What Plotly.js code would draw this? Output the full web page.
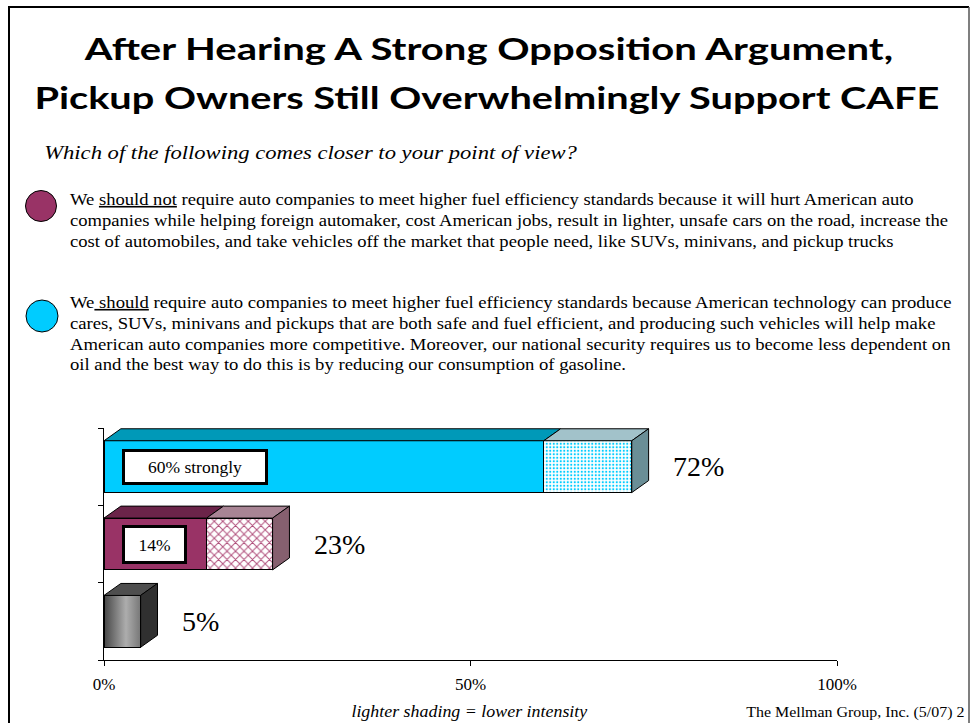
<!DOCTYPE html>
<html>
<head>
<meta charset="utf-8">
<script src="https://cdn.plot.ly/plotly-3.0.1.min.js"></script>
<style>
  html, body { margin: 0; padding: 0; background: #ffffff; }
  #chart { width: 971px; height: 723px; }
</style>
</head>
<body>
<div id="chart"></div>
<script>
// ---- data ----
const categories = ['Should require higher standards', 'Should not require higher standards', "Don't know"];
const totalPct = [72, 23, 5];
const strongPct = [60, 14, null];
const boxSuffix = [' strongly', '', null];
const tickVals = [0, 50, 100];

const titleLines = [
  'After Hearing A Strong Opposition Argument,',
  'Pickup Owners Still Overwhelmingly Support CAFE'
];
const subtitle = 'Which of the following comes closer to your point of view?';
const paraNot = 'We <span style="text-decoration:underline">should not</span> require auto companies to meet higher fuel efficiency standards because it will hurt American auto<br>companies while helping foreign automaker, cost American jobs, result in lighter, unsafe cars on the road, increase the<br>cost of automobiles, and take vehicles off the market that people need, like SUVs, minivans, and pickup trucks';
const paraShould = 'We<span style="text-decoration:underline"> should</span> require auto companies to meet higher fuel efficiency standards because American technology can produce<br>cares, SUVs, minivans and pickups that are both safe and fuel efficient, and producing such vehicles will help make<br>American auto companies more competitive. Moreover, our national security requires us to become less dependent on<br>oil and the best way to do this is by reducing our consumption of gasoline.';
const footNote = 'lighter shading = lower intensity';
const source = 'The Mellman Group, Inc. (5/07) 2';

// ---- styles ----
const solidColor = ['#00CCFF', '#993366', '#808080'];
const patFg = ['#00CCFF', '#B0507C'];
const topSolid = ['#0099B8', '#6B2449', '#4E4E4E'];
const topPat = ['#A2C2CA', '#A88494'];
const sidePat = ['#6A8E96', '#86606F'];
const sideGray = '#303030';
const SERIF = '"Liberation Serif", "Times New Roman", serif';
const SANS = 'Lato, "Open Sans", sans-serif';

const W = 971, H = 723;
const M = {l: 104, r: 134, t: 428, b: 63};
const PW = W - M.l - M.r, PH = H - M.t - M.b;
const fx = x => (x - M.l) / PW;          // pixel -> paper x
const fy = y => (H - M.b - y) / PH;      // pixel -> paper y

const BW = 0.67, DX = 2.3, DY = 0.155;
const n = categories.length;
const yPos = categories.map((c, i) => n - 1 - i);

// ---- traces ----
const idxSplit = [], xStrong = [], xRest = [], ySplit = [];
categories.forEach((c, i) => {
  if (strongPct[i] !== null) {
    idxSplit.push(i);
    xStrong.push(strongPct[i]);
    xRest.push(totalPct[i] - strongPct[i]);
    ySplit.push(yPos[i]);
  }
});
const idxSingle = categories.map((c, i) => i).filter(i => strongPct[i] === null);

const traces = [
  {
    type: 'bar', orientation: 'h', x: xStrong, y: ySplit, width: BW,
    marker: {color: idxSplit.map(i => solidColor[i]), line: {color: '#000', width: 1}},
    hoverinfo: 'skip', showlegend: false
  },
  {
    type: 'bar', orientation: 'h', x: xRest, y: ySplit, width: BW,
    marker: {
      color: idxSplit.map(i => patFg[i]),
      line: {color: '#000', width: 1},
      pattern: {shape: ['.', 'x'], fgcolor: idxSplit.map(i => patFg[i]), bgcolor: '#ffffff', size: [3.5, 6], solidity: [0.3, 0.3]}
    },
    hoverinfo: 'skip', showlegend: false
  },
  {
    type: 'bar', orientation: 'h', x: idxSingle.map(i => totalPct[i]), y: idxSingle.map(i => yPos[i]), width: BW,
    marker: {color: idxSingle.map(i => solidColor[i]), line: {color: '#000', width: 1}},
    hoverinfo: 'skip', showlegend: false
  }
];

// ---- 3D faces ----
const shapes = [];
function poly(pts, fill) {
  const d = 'M' + pts.map(p => p[0] + ',' + p[1]).join(' L') + ' Z';
  shapes.push({type: 'path', xref: 'x', yref: 'y', path: d, fillcolor: fill, line: {color: '#000', width: 1}, layer: 'above'});
}
function topFace(a, b, yc, fill) {
  const t = yc + BW / 2;
  poly([[a, t], [a + DX, t + DY], [b + DX, t + DY], [b, t]], fill);
}
function sideFace(b, yc, fill) {
  const t = yc + BW / 2, bo = yc - BW / 2;
  poly([[b, bo], [b, t], [b + DX, t + DY], [b + DX, bo + DY]], fill);
}
categories.forEach((c, i) => {
  const yc = yPos[i];
  if (strongPct[i] !== null) {
    topFace(0, strongPct[i], yc, topSolid[i]);
    topFace(strongPct[i], totalPct[i], yc, topPat[i]);
    sideFace(totalPct[i], yc, sidePat[i]);
  } else {
    topFace(0, totalPct[i], yc, topSolid[i]);
    sideFace(totalPct[i], yc, sideGray);
  }
});

// slide frame
shapes.push({type: 'path', xref: 'paper', yref: 'paper',
  path: `M${fx(9)},${fy(723)} L${fx(9)},${fy(7)} L${fx(969)},${fy(7)}`,
  line: {color: '#000', width: 2}});
shapes.push({type: 'line', xref: 'paper', yref: 'paper', x0: fx(969), x1: fx(969), y0: fy(7), y1: fy(723),
  line: {color: '#555', width: 1.5}});
// bullet circles
function circle(cx, cy, r, fill) {
  shapes.push({type: 'circle', xref: 'paper', yref: 'paper', x0: fx(cx - r), x1: fx(cx + r), y0: fy(cy + r), y1: fy(cy - r),
    fillcolor: fill, line: {color: '#000', width: 1}});
}
circle(41, 206, 15.5, solidColor[1]);
circle(42, 316, 16, solidColor[0]);

// ---- annotations (with horizontal stretch targets) ----
const ann = [];
const stretch = {};
function addAnn(a, spec) { if (spec) stretch[ann.length] = spec; ann.push(a); }

titleLines.forEach((t, k) => addAnn({
  xref: 'paper', yref: 'paper', x: fx(k === 0 ? 488 : 487), y: fy(k === 0 ? 48 : 97), xanchor: 'center', yanchor: 'middle',
  text: '<b>' + t + '</b>', showarrow: false, font: {family: SANS, size: 30, color: '#000'}
}, {w: k === 0 ? 810 : 905, anchor: 'center'}));
addAnn({xref: 'paper', yref: 'paper', x: fx(42), y: fy(153), xanchor: 'left', yanchor: 'middle',
  text: '<i>' + subtitle + '</i>', showarrow: false, font: {family: SERIF, size: 18.5, color: '#000'}},
  {w: 534, anchor: 'left'});
addAnn({xref: 'paper', yref: 'paper', x: fx(68), y: fy(189), xanchor: 'left', yanchor: 'top', align: 'left',
  text: paraNot, showarrow: false, font: {family: SERIF, size: 16, color: '#000'}},
  {w: 879, anchor: 'left'});
addAnn({xref: 'paper', yref: 'paper', x: fx(68), y: fy(292), xanchor: 'left', yanchor: 'top', align: 'left',
  text: paraShould, showarrow: false, font: {family: SERIF, size: 16, color: '#000'}},
  {w: 882, anchor: 'left'});
addAnn({xref: 'paper', yref: 'paper', x: fx(470), y: fy(712), xanchor: 'center', yanchor: 'middle',
  text: '<i>' + footNote + '</i>', showarrow: false, font: {family: SERIF, size: 16, color: '#000'}},
  {s: 1.12, anchor: 'center'});
addAnn({xref: 'paper', yref: 'paper', x: fx(967), y: fy(712), xanchor: 'right', yanchor: 'middle',
  text: source, showarrow: false, font: {family: SERIF, size: 14.5, color: '#000'}},
  {s: 1.1, anchor: 'right'});

categories.forEach((c, i) => {
  addAnn({xref: 'x', yref: 'y', x: totalPct[i], y: yPos[i], xanchor: 'left', yanchor: 'middle', xshift: 39,
    text: totalPct[i] + '%', showarrow: false, font: {family: SERIF, size: 28, color: '#000'}});
  if (strongPct[i] !== null) {
    const txt = strongPct[i] + '%' + boxSuffix[i];
    addAnn({xref: 'x', yref: 'y', x: 2.5, y: yPos[i], xanchor: 'left', yanchor: 'middle',
      text: txt, showarrow: false, font: {family: SERIF, size: 17.5, color: '#000'},
      bgcolor: '#fff', bordercolor: '#000', borderwidth: 3, borderpad: 1,
      width: boxSuffix[i] ? 138 : 57, height: boxSuffix[i] ? 28 : 31});
  }
});

const layout = {
  width: W, height: H,
  margin: M,
  paper_bgcolor: '#fff', plot_bgcolor: '#fff',
  barmode: 'stack', bargap: 0,
  showlegend: false,
  xaxis: {
    range: [0, 100], tickvals: tickVals, ticktext: tickVals.map(v => v + '%'),
    ticks: 'outside', ticklen: 5, tickcolor: '#000', showline: true, linecolor: '#000', linewidth: 1,
    showgrid: false, zeroline: false, ticklabelstandoff: 4,
    tickfont: {family: SERIF, size: 17, color: '#000'}, fixedrange: true
  },
  yaxis: {
    range: [-0.5, 2.5], tickvals: [-0.5, 0.5, 1.5, 2.5], showticklabels: false,
    ticks: 'outside', ticklen: 5, tickcolor: '#000', showline: true, linecolor: '#000', linewidth: 1,
    showgrid: false, zeroline: false, fixedrange: true
  },
  shapes: shapes,
  annotations: ann
};

Plotly.newPlot('chart', traces, layout, {displayModeBar: false, staticPlot: true}).then(gd => {
  const svg = gd.querySelector('.main-svg');
  const NS = 'http://www.w3.org/2000/svg';
  // horizontal gradient on the single grey bar
  let defs = svg.querySelector('defs');
  if (!defs) { defs = document.createElementNS(NS, 'defs'); svg.insertBefore(defs, svg.firstChild); }
  const g = document.createElementNS(NS, 'linearGradient');
  g.setAttribute('id', 'greyGrad');
  g.setAttribute('x1', '0'); g.setAttribute('x2', '1'); g.setAttribute('y1', '0'); g.setAttribute('y2', '0');
  [['0', '#454545'], ['0.6', '#adadad'], ['1', '#777777']].forEach(s => {
    const st = document.createElementNS(NS, 'stop');
    st.setAttribute('offset', s[0]); st.setAttribute('stop-color', s[1]);
    g.appendChild(st);
  });
  defs.appendChild(g);
  const traceEls = gd.querySelectorAll('.barlayer .trace');
  const last = traceEls[traceEls.length - 1];
  last.querySelectorAll('path').forEach(p => p.style.setProperty('fill', 'url(#greyGrad)'));

  // horizontal stretch of slide text to match the reference proportions
  gd.querySelectorAll('g.annotation').forEach(ga => {
    const idx = +ga.getAttribute('data-index');
    const spec = stretch[idx];
    if (!spec) return;
    const t = ga.querySelector('text.annotation-text');
    if (!t) return;
    const bb = t.getBBox();
    if (!bb.width) return;
    const s = spec.w ? spec.w / bb.width : spec.s;
    const ox = spec.anchor === 'left' ? bb.x : (spec.anchor === 'right' ? bb.x + bb.width : bb.x + bb.width / 2);
    const prev = t.getAttribute('transform') || '';
    t.setAttribute('transform', `translate(${ox},0) scale(${s},1) translate(${-ox},0) ${prev}`);
  });
});
</script>
</body>
</html>
